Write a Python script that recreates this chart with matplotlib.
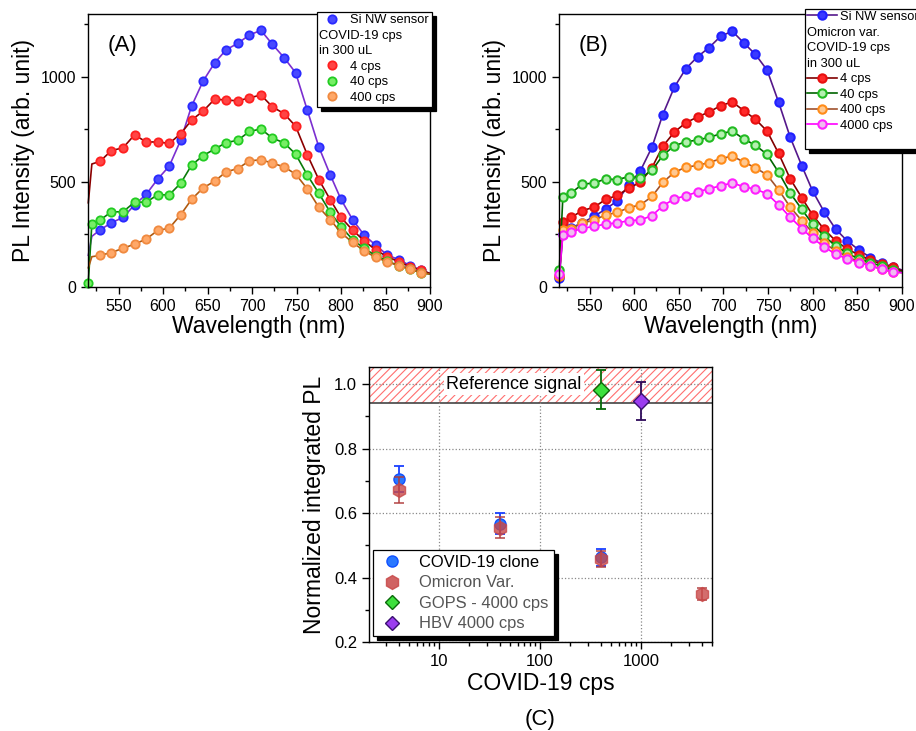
import numpy as np
import matplotlib
matplotlib.use("Agg")
import matplotlib.pyplot as plt
from matplotlib.lines import Line2D
from matplotlib.ticker import MultipleLocator

plt.rcParams['font.family'] = ['Liberation Sans', 'DejaVu Sans']
plt.rcParams['hatch.linewidth'] = 0.8

# ---- spectra data (wavelength grid; 2nd point is the onset, last is line end)
wl = [516, 520, 529, 542, 555, 568, 581, 594, 607, 620, 632, 645, 658, 671, 684,
      697, 710, 723, 736, 749, 762, 775, 788, 800, 813, 826, 839, 852, 865, 878, 890, 900]

a_sensor = [150, 240, 270, 305, 330, 390, 440, 513, 575, 700, 860, 980, 1067, 1130, 1160,
            1200, 1222, 1155, 1092, 1020, 843, 667, 532, 416, 320, 246, 198, 151, 129, 100, 79, 63]
a_4 = [400, 585, 597, 649, 662, 724, 690, 690, 683, 730, 794, 837, 894, 890, 886,
       900, 914, 857, 825, 765, 630, 511, 414, 330, 270, 219, 175, 143, 119, 95, 79, 63]
a_40 = [19, 300, 317, 357, 357, 403, 403, 438, 438, 494, 579, 625, 656, 687, 698,
        740, 752, 708, 686, 632, 533, 446, 354, 286, 225, 183, 148, 122, 100, 83, 67, 60]
a_400 = [90, 143, 149, 163, 183, 203, 227, 268, 279, 344, 416, 471, 503, 548, 563,
         600, 605, 589, 571, 537, 467, 379, 319, 257, 211, 171, 140, 119, 100, 83, 67, 60]

b_sensor = [40, 250, 280, 305, 335, 370, 409, 486, 553, 666, 820, 951, 1040, 1096, 1140,
            1194, 1218, 1162, 1107, 1033, 879, 712, 576, 457, 357, 274, 218, 175, 139, 111, 96, 80]
b_4 = [50, 310, 330, 363, 379, 416, 435, 470, 498, 568, 669, 737, 782, 809, 833,
       863, 881, 839, 798, 742, 635, 514, 424, 342, 274, 218, 180, 151, 127, 107, 92, 76]
b_40 = [80, 427, 446, 489, 494, 514, 510, 525, 519, 554, 626, 672, 691, 699, 712,
        729, 742, 704, 674, 631, 545, 446, 369, 298, 242, 194, 159, 132, 115, 97, 80, 72]
b_400 = [50, 270, 277, 303, 318, 342, 354, 377, 390, 430, 497, 545, 570, 578, 592,
         610, 623, 594, 567, 533, 462, 379, 315, 258, 207, 172, 143, 119, 100, 83, 70, 67]
b_4000 = [60, 247, 260, 279, 287, 299, 304, 315, 318, 339, 385, 419, 433, 452, 467,
          481, 495, 476, 465, 443, 390, 331, 277, 231, 191, 154, 134, 115, 100, 83, 72, 67]

# ---- integrated PL data
cps_clone = [4, 40, 400]
pl_clone = [0.705, 0.567, 0.463]
err_clone = [0.04, 0.033, 0.027]
cps_omi = [4, 40, 400, 4000]
pl_omi = [0.672, 0.555, 0.458, 0.348]
err_omi = [0.04, 0.033, 0.025, 0.018]
cps_gops, pl_gops, err_gops = [400], [0.983], [0.06]
cps_hbv, pl_hbv, err_hbv = [1000], [0.948], [0.058]
ref_low = 0.94

W, H = 916, 731
fig = plt.figure(figsize=(W / 100, H / 100), dpi=100)


def px_axes(l, t, r, b):
    return fig.add_axes([l / W, 1 - b / H, (r - l) / W, (b - t) / H])


def flush_left(leg, rows):
    # header lines of the legend start at the border, without a handle
    items = leg._legend_handle_box.get_children()[0].get_children()
    for i in rows:
        items[i].get_children()[0].width = 0
        items[i].sep = 0


def style_spectrum(ax, tag):
    ax.set_xlim(516, 900)
    ax.set_ylim(0, 1300)
    ax.xaxis.set_major_locator(MultipleLocator(50))
    ax.xaxis.set_minor_locator(MultipleLocator(25))
    ax.yaxis.set_major_locator(MultipleLocator(500))
    ax.yaxis.set_minor_locator(MultipleLocator(250))
    ax.tick_params(which='both', direction='out', top=False, right=False, labelsize=11.5)
    ax.tick_params(which='major', length=5, width=1)
    ax.tick_params(which='minor', length=3, width=1)
    ax.set_xticks([550, 600, 650, 700, 750, 800, 850, 900])
    ax.set_xlabel('Wavelength (nm)', fontsize=16.5, labelpad=1)
    ax.set_ylabel('PL Intensity (arb. unit)', fontsize=16.5, labelpad=4)
    ax.text(0.10, 0.885, tag, transform=ax.transAxes, fontsize=16, ha='center', va='center')
    for s in ax.spines.values():
        s.set_linewidth(1)


shadow = {'color': 'black', 'alpha': 1, 'ox': 3, 'oy': -3}
blank = Line2D([], [], ls='none')

# ---------------- panel A
axA = px_axes(88.3, 14, 430, 286.7)
full = list(range(0, 31))
nofirst = list(range(2, 31))
specA = [
    (a_sensor, '#7b2fd0', '#4a4aff', '#2a2aff', nofirst, 'Si NW sensor'),
    (a_4, '#8b0000', '#ff4545', '#ff2020', nofirst, '4 cps'),
    (a_40, '#0a7a0a', '#77ee66', '#22cc22', full, '40 cps'),
    (a_400, '#b05a10', '#ffa868', '#f08a40', nofirst, '400 cps'),
]
hA = []
for y, lc, fc, ec, me, lab in specA:
    axA.plot(wl, y, color=lc, lw=1.2, marker='o', ms=6, mfc=fc, mec=ec, mew=1.3,
             markevery=me, clip_on=False)
    hA.append(Line2D([], [], ls='none', marker='o', ms=6, mfc=fc, mec=ec, mew=1.3))
style_spectrum(axA, '(A)')
legA = axA.legend([hA[0], blank, blank, hA[1], hA[2], hA[3]],
                  ['Si NW sensor', 'COVID-19 cps', 'in 300 uL', '4 cps', '40 cps', '400 cps'],
                  loc='upper left', bbox_to_anchor=(316.7 / W, 1 - 11.7 / H),
                  bbox_transform=fig.transFigure, borderaxespad=0, fontsize=9.3,
                  frameon=True, fancybox=False, edgecolor='black', framealpha=1,
                  shadow=shadow, borderpad=0.2, labelspacing=0.27,
                  handlelength=2.0, handletextpad=0.4)
legA.get_frame().set_linewidth(0.9)
flush_left(legA, [1, 2])

# ---------------- panel B
axB = px_axes(559.3, 14, 901.7, 286.7)
specB = [
    (b_sensor, '#55188b', '#3a3aff', '#2020ff', 'Si NW sensor'),
    (b_4, '#800000', '#ff2a2a', '#e81010', '4 cps'),
    (b_40, '#006400', '#b4f0b0', '#22bb22', '40 cps'),
    (b_400, '#a0522d', '#ffc890', '#ff8c1a', '400 cps'),
    (b_4000, '#ff00ff', '#f0bcf0', '#ff20ff', '4000 cps'),
]
hB = []
for y, lc, fc, ec, lab in specB:
    axB.plot(wl, y, color=lc, lw=1.2, marker='o', ms=6, mfc=fc, mec=ec, mew=1.5,
             markevery=full, clip_on=False)
    hB.append(Line2D([], [], color=lc, lw=1.2, marker='o', ms=6, mfc=fc, mec=ec, mew=1.5))
style_spectrum(axB, '(B)')
legB = axB.legend([hB[0], blank, blank, blank, hB[1], hB[2], hB[3], hB[4], blank],
                  ['Si NW sensor', 'Omicron var.', 'COVID-19 cps', 'in 300 uL',
                   '4 cps', '40 cps', '400 cps', '4000 cps', ' '],
                  loc='upper left', bbox_to_anchor=(805 / W, 1 - 9 / H),
                  bbox_transform=fig.transFigure, borderaxespad=0, fontsize=9.3,
                  frameon=True, fancybox=False, edgecolor='black', framealpha=1,
                  shadow=shadow, borderpad=0.15, labelspacing=0.27,
                  handlelength=2.3, handletextpad=0.25)
legB.get_frame().set_linewidth(0.9)
flush_left(legB, [1, 2, 3, 8])

# ---------------- panel C
axC = px_axes(369, 367, 712, 642)
axC.set_xscale('log')
axC.set_xlim(2.03, 5040)
axC.set_ylim(0.2, 1.053)
axC.axhspan(ref_low, 1.2, facecolor='white', edgecolor='#ff6f6f', hatch='////',
            linewidth=0, zorder=0.5)
axC.axhline(ref_low, color='#444444', lw=1.2, zorder=1)
axC.grid(True, which='major', linestyle=':', color='#888888', lw=0.9)
axC.text(55, 1.0, 'Reference signal', fontsize=13, ha='center', va='center',
         bbox=dict(facecolor='white', edgecolor='none', pad=1.5), zorder=2)

axC.errorbar(cps_clone, pl_clone, yerr=err_clone, fmt='o', ms=8, mfc='#2a78ff', mec='#1050ff',
             ecolor='#1a40ff', elinewidth=1.3, capsize=3.5, capthick=1.3, zorder=3)
axC.errorbar(cps_omi, pl_omi, yerr=err_omi, fmt='h', ms=10, mfc='#c84848', mec='#c84848',
             ecolor='#b03a3a', elinewidth=1.3, capsize=3.5, capthick=1.3, alpha=0.8, zorder=4)
axC.errorbar(cps_gops, pl_gops, yerr=err_gops, fmt='D', ms=8, mfc='#3de03d', mec='#0a6a0a',
             ecolor='#0a6a0a', elinewidth=1.3, capsize=3.5, capthick=1.3, zorder=5)
axC.errorbar(cps_hbv, pl_hbv, yerr=err_hbv, fmt='D', ms=8, mfc='#9b3cf0', mec='#3a1070',
             ecolor='#2e0a5a', elinewidth=1.3, capsize=3.5, capthick=1.3, zorder=5)

axC.yaxis.set_major_locator(MultipleLocator(0.2))
axC.yaxis.set_minor_locator(MultipleLocator(0.1))
axC.set_xticks([10, 100, 1000])
axC.set_xticklabels(['10', '100', '1000'])
axC.tick_params(which='both', direction='out', top=False, right=False, labelsize=12)
axC.tick_params(which='major', length=5, width=1)
axC.tick_params(which='minor', length=3, width=1)
axC.set_xlabel('COVID-19 cps', fontsize=16.5, labelpad=2)
axC.set_ylabel('Normalized integrated PL', fontsize=16.5, labelpad=6)
for s in axC.spines.values():
    s.set_linewidth(1)

hC = [Line2D([], [], ls='none', marker='o', ms=8, mfc='#2a78ff', mec='#1050ff'),
      Line2D([], [], ls='none', marker='h', ms=10, mfc='#c84848', mec='#c84848', alpha=0.85),
      Line2D([], [], ls='none', marker='D', ms=7.5, mfc='#3de03d', mec='#0a6a0a'),
      Line2D([], [], ls='none', marker='D', ms=7.5, mfc='#9b3cf0', mec='#3a1070')]
legC = axC.legend(hC, ['COVID-19 clone', 'Omicron Var.', 'GOPS - 4000 cps', 'HBV 4000 cps'],
                  loc='upper left', bbox_to_anchor=(373 / W, 1 - 550 / H),
                  bbox_transform=fig.transFigure, borderaxespad=0, fontsize=11.9,
                  frameon=True, fancybox=False, edgecolor='black', framealpha=1,
                  shadow=shadow, borderpad=0.3, labelspacing=0.33,
                  handlelength=1.7, handletextpad=0.8)
legC.get_frame().set_linewidth(0.9)
for t, c in zip(legC.get_texts(), ['black', '#555555', '#555555', '#555555']):
    t.set_color(c)

fig.text(540 / W, 1 - 719 / H, '(C)', fontsize=16, ha='center', va='center')

fig.savefig('out.png', dpi=100)
